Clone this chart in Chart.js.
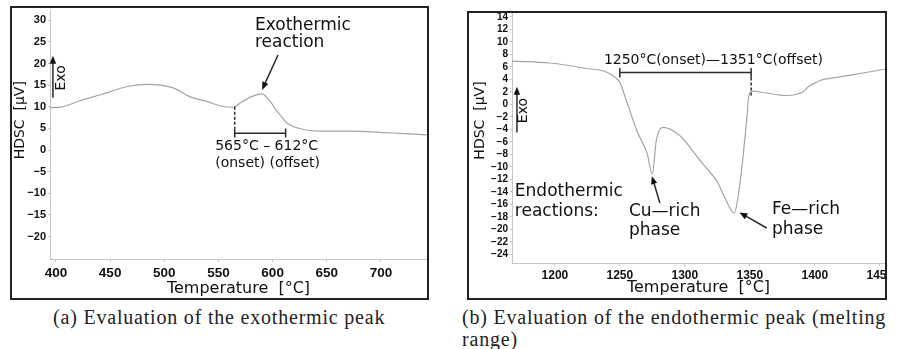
<!DOCTYPE html>
<html>
  <head>
    <title>HDSC</title>
    <script src="https://cdn.jsdelivr.net/npm/chart.js"></script>
    <style>
      body {
        margin: 0;
        width: 897px;
        height: 349px;
        background: #fff;
        position: relative;
        overflow: hidden;
      }
      .panel {
        position: absolute;
        border: 2px solid #222;
        box-sizing: border-box;
        background: #fff;
      }
      #panelA { left: 10px; top: 6px; width: 419px; height: 294px; }
      #panelB { left: 467px; top: 11px; width: 420px; height: 289px; }
      .panel div { position: relative; width: 100%; height: 100%; }
      .caption {
        position: absolute;
        font-family: "Liberation Serif", serif;
        font-size: 20px;
        line-height: 22px;
        letter-spacing: 0.8px;
        color: #222;
        white-space: nowrap;
      }
    </style>
  </head>
  <body>
    <div class="panel" id="panelA"><div><canvas id="chartA"></canvas></div></div>
    <div class="panel" id="panelB"><div><canvas id="chartB"></canvas></div></div>
    <div class="caption" style="left: 53px; top: 306px">(a) Evaluation of the exothermic peak</div>
    <div class="caption" style="left: 462px; top: 306px">(b) Evaluation of the endothermic peak (melting<br />range)</div>

    <script>
      // (a) exothermic peak
      const tempA = [394, 406, 422, 441, 456, 466, 484, 508, 524, 540, 552, 564, 570, 580, 590, 598, 603, 607, 613, 623, 644, 672, 706, 743];
      const hdscA = [9.8, 10.0, 11.4, 12.8, 14.0, 14.7, 15.2, 14.4, 12.3, 11.2, 10.2, 9.9, 10.9, 12.3, 13.0, 11.2, 9.3, 8.1, 6.3, 5.1, 4.4, 4.4, 4.0, 3.5];
      const xTicksA = [400, 450, 500, 550, 600, 650, 700];
      const yTicksA = [-20, -15, -10, -5, 0, 5, 10, 15, 20, 25, 30];

      // (b) endothermic peak (melting range)
      const tempB = [1167, 1196, 1222, 1249, 1255, 1263, 1271, 1275, 1278, 1283, 1296, 1311, 1319, 1325, 1330, 1338, 1342, 1345, 1348, 1349, 1352, 1363, 1378, 1391, 1395, 1401, 1404, 1417, 1437, 1454];
      const hdscB = [6.9, 6.6, 5.8, 3.8, 0.6, -4.2, -7.9, -11.2, -5.8, -3.7, -5.0, -8.8, -10.8, -12.4, -14.6, -17.4, -13.3, -7.9, -1.5, 1.1, 2.1, 1.8, 1.4, 2.0, 2.8, 3.5, 3.8, 4.3, 5.0, 5.6];
      const xTicksB = [1200, 1250, 1300, 1350, 1400, 1450];
      const yTicksB = [-24, -22, -20, -18, -16, -14, -12, -10, -8, -6, -4, -2, 0, 2, 4, 6, 8, 10, 12, 14];

      const SANS = '"DejaVu Sans", sans-serif';
      const minus = (v) => (v < 0 ? "\u2212" + Math.abs(v) : String(v));

      function notesPlugin(notes) {
        return {
          id: "notes",
          afterDraw(chart) {
            const { ctx } = chart;
            const px = (v) => chart.scales.x.getPixelForValue(v);
            const py = (v) => chart.scales.y.getPixelForValue(v);
            ctx.save();
            ctx.strokeStyle = "#2a2a2a";
            ctx.fillStyle = "#111";
            ctx.lineWidth = 1.5;
            notes.forEach((n) => {
              if (n.type === "text") {
                ctx.font = n.font;
                ctx.textBaseline = "middle";
                if (n.rotate) {
                  ctx.save();
                  ctx.translate(px(n.x), py(n.y));
                  ctx.rotate(-Math.PI / 2);
                  ctx.textAlign = "center";
                  ctx.fillText(n.text, 0, 0);
                  ctx.restore();
                } else {
                  ctx.textAlign = n.align || "left";
                  ctx.fillText(n.text, px(n.x), py(n.y));
                }
              } else if (n.type === "dash") {
                ctx.setLineDash([3, 2]);
                ctx.beginPath();
                ctx.moveTo(px(n.x), py(n.y1));
                ctx.lineTo(px(n.x), py(n.y2));
                ctx.stroke();
                ctx.setLineDash([]);
              } else if (n.type === "bracket") {
                ctx.beginPath();
                ctx.moveTo(px(n.x1), py(n.y));
                ctx.lineTo(px(n.x2), py(n.y));
                [n.x1, n.x2].forEach((t) => {
                  ctx.moveTo(px(t), py(n.yt));
                  ctx.lineTo(px(t), py(n.yb));
                });
                ctx.stroke();
              } else if (n.type === "arrow") {
                const x1 = px(n.x1), y1 = py(n.y1), x2 = px(n.x2), y2 = py(n.y2);
                const a = Math.atan2(y2 - y1, x2 - x1);
                const h = 8, w = 3.2;
                ctx.beginPath();
                ctx.moveTo(x1, y1);
                ctx.lineTo(x2 - Math.cos(a) * h * 0.8, y2 - Math.sin(a) * h * 0.8);
                ctx.stroke();
                ctx.beginPath();
                ctx.moveTo(x2, y2);
                ctx.lineTo(x2 - Math.cos(a) * h + Math.sin(a) * w, y2 - Math.sin(a) * h - Math.cos(a) * w);
                ctx.lineTo(x2 - Math.cos(a) * h - Math.sin(a) * w, y2 - Math.sin(a) * h + Math.cos(a) * w);
                ctx.closePath();
                ctx.fill();
              }
            });
            ctx.restore();
          },
        };
      }

      function buildChart(id, temps, vals, cfg) {
        const axisColor = "#c4c4c4";
        return new Chart(document.getElementById(id), {
          type: "scatter",
          data: {
            datasets: [
              {
                data: temps.map((t, i) => ({ x: t, y: vals[i] })),
                showLine: true,
                borderColor: "#a4a4a4",
                borderWidth: 1.2,
                pointRadius: 0,
                cubicInterpolationMode: "monotone",
              },
            ],
          },
          options: {
            responsive: true,
            maintainAspectRatio: false,
            animation: false,
            layout: { padding: { top: cfg.top, left: 0, right: 0, bottom: 0 } },
            plugins: { legend: { display: false }, tooltip: { enabled: false } },
            scales: {
              x: {
                type: "linear",
                min: cfg.xMin,
                max: cfg.xMax,
                afterBuildTicks: (s) => { s.ticks = cfg.xTicks.map((v) => ({ value: v })); },
                afterFit: (s) => { s.height = cfg.xh; s.paddingLeft = 0; s.paddingRight = 0; },
                grid: { drawOnChartArea: false, color: axisColor, tickLength: 3 },
                border: { color: axisColor, dash: [1, 1] },
                ticks: {
                  autoSkip: false,
                  maxRotation: 0,
                  padding: cfg.xPad,
                  color: "#111",
                  callback: (v) => String(v),
                  font: { family: '"Liberation Sans", sans-serif', weight: "bold", size: cfg.xFont },
                },
                title: {
                  display: true,
                  text: "Temperature  [\u00b0C]",
                  color: "#111",
                  font: { family: SANS, size: 16 },
                  padding: { top: 0, bottom: cfg.titlePad },
                },
              },
              y: {
                type: "linear",
                min: cfg.yMin,
                max: cfg.yMax,
                afterBuildTicks: (s) => { s.ticks = cfg.yTicks.map((v) => ({ value: v })); },
                afterFit: (s) => { s.width = cfg.yw; s.paddingTop = 0; s.paddingBottom = 0; },
                grid: { drawOnChartArea: false, color: axisColor, tickLength: 2 },
                border: { color: axisColor, dash: [1, 1] },
                ticks: {
                  autoSkip: false,
                  padding: 2,
                  color: "#111",
                  callback: minus,
                  font: { family: '"Liberation Sans", sans-serif', weight: "bold", size: cfg.yFont },
                },
              },
            },
          },
          plugins: [notesPlugin(cfg.notes)],
        });
      }

      buildChart("chartA", tempA, hdscA, {
        xMin: 394.5, xMax: 742.5, yMin: -25.2, yMax: 32.4,
        xTicks: xTicksA, yTicks: yTicksA,
        top: 2, xh: 39, yw: 38, xPad: 3, xFont: 13.5, yFont: 11, titlePad: 0,
        notes: [
          { type: "text", text: "HDSC  [\u03bcV]", x: 366.8, y: 6.9, rotate: true, font: "14px " + SANS },
          { type: "arrow", x1: 397.2, y1: 12.1, x2: 397.2, y2: 21.8 },
          { type: "text", text: "Exo", x: 404.6, y: 16.7, rotate: true, font: "14px " + SANS },
          { type: "dash", x: 565, y1: 10, y2: 5.0 },
          { type: "bracket", x1: 565, x2: 612, y: 3.9, yt: 5.0, yb: 2.9 },
          { type: "text", text: "565\u00b0C \u2013 612\u00b0C", x: 547, y: 0.9, font: "14px " + SANS },
          { type: "text", text: "(onset) (offset)", x: 547, y: -3.0, font: "14px " + SANS },
          { type: "text", text: "Exothermic", x: 583.7, y: 28.9, font: "17px " + SANS },
          { type: "text", text: "reaction", x: 583.7, y: 24.8, font: "17px " + SANS },
          { type: "arrow", x1: 605, y1: 22, x2: 590.2, y2: 13.9 },
        ],
      });

      buildChart("chartB", tempB, hdscB, {
        xMin: 1167, xMax: 1454, yMin: -25.4, yMax: 14.6,
        xTicks: xTicksB, yTicks: yTicksB,
        top: 0, xh: 35, yw: 43, xPad: 2, xFont: 12, yFont: 10, titlePad: 1,
        notes: [
          { type: "text", text: "HDSC  [\u03bcV]", x: 1142.3, y: -2.6, rotate: true, font: "14px " + SANS },
          { type: "arrow", x1: 1170.8, y1: -4.5, x2: 1170.8, y2: 2.8 },
          { type: "text", text: "Exo", x: 1176, y: -1.0, rotate: true, font: "14px " + SANS },
          { type: "bracket", x1: 1250, x2: 1351, y: 5.1, yt: 5.8, yb: 4.3 },
          { type: "dash", x: 1351, y1: 4.3, y2: 1.1 },
          { type: "text", text: "1250\u00b0C(onset)\u20141351\u00b0C(offset)", x: 1322, y: 7.0, align: "center", font: "14px " + SANS },
          { type: "text", text: "Endothermic", x: 1169.2, y: -13.9, font: "17px " + SANS },
          { type: "text", text: "reactions:", x: 1169.2, y: -17.1, font: "17px " + SANS },
          { type: "text", text: "Cu\u2014rich", x: 1257, y: -17.1, font: "17px " + SANS },
          { type: "text", text: "phase", x: 1257, y: -20.2, font: "17px " + SANS },
          { type: "arrow", x1: 1280.8, y1: -15.8, x2: 1274.6, y2: -11.5 },
          { type: "text", text: "Fe\u2014rich", x: 1367, y: -16.8, font: "17px " + SANS },
          { type: "text", text: "phase", x: 1367, y: -20.0, font: "17px " + SANS },
          { type: "arrow", x1: 1363, y1: -19.8, x2: 1342, y2: -17.3 },
        ],
      });
    </script>
  </body>
</html>
